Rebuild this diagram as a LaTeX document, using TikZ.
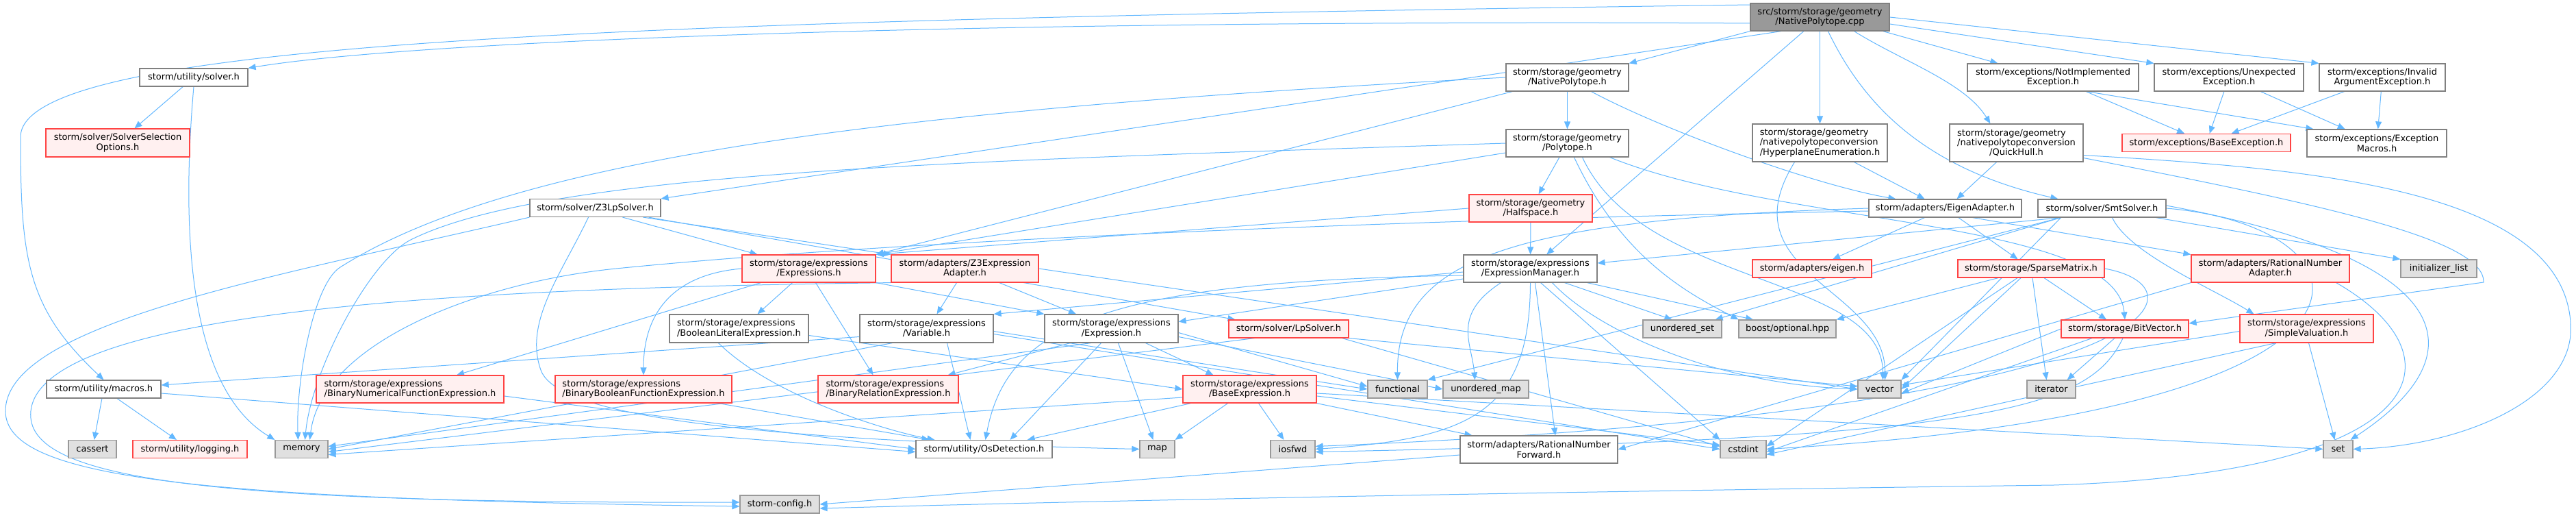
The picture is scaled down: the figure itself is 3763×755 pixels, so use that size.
\documentclass[tikz,border=0pt]{standalone}
\usepackage{fontspec}
\setmainfont{DejaVu Sans}
\usetikzlibrary{arrows.meta, backgrounds}
\definecolor{edgeblue}{HTML}{63B8FF}
\definecolor{boxgray}{HTML}{808080}
\definecolor{sysfill}{HTML}{E0E0E0}
\definecolor{sysline}{HTML}{999999}
\definecolor{truncfill}{HTML}{FFF0F0}
\definecolor{truncline}{HTML}{FF4444}
\newcommand{\lftline}[2]{\rlap{#1}\phantom{#2}}

\begin{document}
\begin{tikzpicture}[x=1pt, y=-1pt,
  hdr/.style={rectangle, draw=boxgray, fill=white, line width=1.2pt, minimum height=26pt, inner sep=2pt, align=center, font=\fontsize{13}{14.3}\selectfont},
  trunc/.style={hdr, draw=truncline, fill=truncfill},
  sysh/.style={hdr, draw=sysline, fill=sysfill},
  srcf/.style={hdr, fill=sysline},
  dep/.style={-{Triangle[length=11pt,width=9pt]}, draw=edgeblue, line width=1pt}
]
  \useasboundingbox (0,0) rectangle (3763,755);

  % rows top to bottom
  \node[srcf, minimum width=203pt, minimum height=40pt] (root) at (2658.5,25) {src/storm/storage/geometry\\/NativePolytope.cpp};

  \node[hdr, minimum width=158pt] (usolver) at (283,113) {storm/utility/solver.h};
  \node[hdr, minimum width=179pt, minimum height=40pt] (nativeh) at (2289.5,113) {storm/storage/geometry\\/NativePolytope.h};
  \node[hdr, minimum width=250pt, minimum height=40pt] (notimpl) at (2999,113) {storm/exceptions/NotImplemented\\Exception.h};
  \node[hdr, minimum width=218pt, minimum height=40pt] (unexp) at (3256,113) {storm/exceptions/Unexpected\\Exception.h};
  \node[hdr, minimum width=184pt, minimum height=40pt] (invarg) at (3480,113) {storm/exceptions/Invalid\\ArgumentException.h};

  \node[trunc, minimum width=210pt, minimum height=41pt] (selopt) at (172,208.5) {storm/solver/SolverSelection\\Options.h};
  \node[hdr, minimum width=179pt, minimum height=40pt] (polytope) at (2289.5,209) {storm/storage/geometry\\/Polytope.h};
  \node[hdr, minimum width=197pt, minimum height=55pt, align=left] (hyperplane) at (2658.5,208.5) {storm/storage/geometry\\/nativepolytopeconversion\\/HyperplaneEnumeration.h};
  \node[hdr, minimum width=195pt, minimum height=55pt] (quickhull) at (2945.5,208.5) {\lftline{storm/storage/geometry}{/nativepolytopeconversion}\\/nativepolytopeconversion\\/QuickHull.h};
  \node[trunc, minimum width=246pt] (baseexc) at (3223,208.5) {storm/exceptions/BaseException.h};
  \node[hdr, minimum width=204pt, minimum height=40pt] (excmacros) at (3472,209) {storm/exceptions/Exception\\Macros.h};

  \node[hdr, minimum width=191pt] (z3lp) at (869.5,303.5) {storm/solver/Z3LpSolver.h};
  \node[trunc, minimum width=180pt, minimum height=40pt] (halfspace) at (2236,304) {storm/storage/geometry\\/Halfspace.h};
  \node[hdr, minimum width=223pt] (eigenad) at (2841.5,304) {storm/adapters/EigenAdapter.h};
  \node[hdr, minimum width=187pt] (smtsolver) at (3070.5,304) {storm/solver/SmtSolver.h};

  \node[trunc, minimum width=195pt, minimum height=40pt] (exprs) at (1181.5,392) {storm/storage/expressions\\/Expressions.h};
  \node[trunc, minimum width=215pt, minimum height=40pt] (z3adapt) at (1409.5,392) {storm/adapters/Z3Expression\\Adapter.h};
  \node[hdr, minimum width=195pt, minimum height=40pt] (exprmgr) at (2235.5,392) {storm/storage/expressions\\/ExpressionManager.h};
  \node[trunc, minimum width=174pt] (eigen) at (2647,392) {storm/adapters/eigen.h};
  \node[trunc, minimum width=214pt] (sparse) at (2967,392) {storm/storage/SparseMatrix.h};
  \node[trunc, minimum width=231pt, minimum height=40pt] (ratadapt) at (3316.5,392) {storm/adapters/RationalNumber\\Adapter.h};
  \node[sysh, minimum width=111pt] (initlist) at (3562.5,392) {initializer\_list};

  \node[hdr, minimum width=203pt, minimum height=41pt, align=left] (boollit) at (1079.5,479.5) {storm/storage/expressions\\/BooleanLiteralExpression.h};
  \node[hdr, minimum width=195pt, minimum height=41pt] (variable) at (1353.5,479.5) {storm/storage/expressions\\/Variable.h};
  \node[hdr, minimum width=195pt, minimum height=41pt] (expression) at (1623.5,479.5) {storm/storage/expressions\\/Expression.h};
  \node[trunc, minimum width=175pt] (lpsolver) at (1882.5,480) {storm/solver/LpSolver.h};
  \node[sysh, minimum width=115pt] (uset) at (2457.5,480) {unordered\_set};
  \node[sysh, minimum width=142pt] (boostopt) at (2611,480) {boost/optional.hpp};
  \node[trunc, minimum width=186pt] (bitvector) at (3104,480) {storm/storage/BitVector.h};
  \node[trunc, minimum width=195pt, minimum height=41pt] (simpleval) at (3369.5,479.5) {storm/storage/expressions\\/SimpleValuation.h};

  \node[hdr, minimum width=167pt] (macros) at (151.5,568) {storm/utility/macros.h};
  \node[trunc, minimum width=274pt, minimum height=40pt, align=left] (binnum) at (599,568) {storm/storage/expressions\\/BinaryNumericalFunctionExpression.h};
  \node[trunc, minimum width=258pt, minimum height=40pt, align=left] (binbool) at (940,568) {storm/storage/expressions\\/BinaryBooleanFunctionExpression.h};
  \node[trunc, minimum width=205pt, minimum height=40pt, align=left] (binrel) at (1297.5,568) {storm/storage/expressions\\/BinaryRelationExpression.h};
  \node[trunc, minimum width=195pt, minimum height=40pt] (baseexpr) at (1825.5,568) {storm/storage/expressions\\/BaseExpression.h};
  \node[sysh, minimum width=87pt] (functional) at (2041.5,568) {functional};
  \node[sysh, minimum width=125pt] (umap) at (2170.5,568) {unordered\_map};
  \node[sysh, minimum width=63pt] (vector) at (2745.5,568) {vector};
  \node[sysh, minimum width=71pt] (iterator) at (2996.5,568) {iterator};

  \node[sysh, minimum width=70pt] (cassert) at (135,655.5) {cassert};
  \node[trunc, minimum width=167pt] (logging) at (277.5,655.5) {storm/utility/logging.h};
  \node[sysh, minimum width=77pt] (memory) at (440.5,655.5) {memory};
  \node[hdr, minimum width=199pt] (osdet) at (1437.5,655.5) {storm/utility/OsDetection.h};
  \node[sysh, minimum width=51pt] (map) at (1690.5,655.5) {map};
  \node[sysh, minimum width=65pt] (iosfwd) at (1888.5,655.5) {iosfwd};
  \node[hdr, minimum width=230pt, minimum height=40pt] (ratfwd) at (2248,656) {storm/adapters/RationalNumber\\Forward.h};
  \node[sysh, minimum width=67pt] (cstdint) at (2546.5,655.5) {cstdint};
  \node[sysh, minimum width=43pt] (set) at (3415.5,655.5) {set};

  \node[sysh, minimum width=116pt] (config) at (1139,736) {storm-config.h};

  \coordinate (lbendA) at (30,200);
  \coordinate (wNat) at (497,390);
  \coordinate (wPol) at (600,350);
  \coordinate (wEig) at (900,392);
  \coordinate (wZm) at (790,540);
  \coordinate (wZc) at (8,600);
  \coordinate (wAc) at (45,600);
  \coordinate (wQs) at (3755,470);
  \coordinate (wQb) at (3628,412);
  \coordinate (wRc) at (3000,708);

  \begin{scope}[on background layer]
  \fill[white] (0,0) rectangle (3763,755);

  \draw[dep] (root.185) .. controls (1400,28) and (600,60) .. (usolver.north east);
  \draw[dep] (root.170) .. controls (900,30) and (30,60) .. (lbendA) .. controls (30,380) and (40,450) .. (macros.north);
  \draw[dep] (root.200) -- (z3lp.north east);
  \draw[dep] (root.south west) -- (nativeh.north east);
  \draw[dep] (root) -- (exprmgr);
  \draw[dep] (root) -- (hyperplane);
  \draw[dep] ([xshift=50pt]root.south) .. controls (2780,90) and (2870,120) .. ([xshift=60pt]quickhull.north west);
  \draw[dep] ([xshift=12pt]root.south) .. controls (2730,170) and (2830,250) .. ([xshift=30pt]smtsolver.north west);
  \draw[dep] ([xshift=-10pt]root.south east) -- ([xshift=45pt]notimpl.north west);
  \draw[dep] ([yshift=-10pt]root.east) -- (unexp.north west);
  \draw[dep] (root.east) -- (invarg.north west);

  \draw[dep] (usolver) -- (selopt);
  \draw[dep] (usolver.south) .. controls (268,300) and (265,560) .. (memory.north west);

  \draw[dep] (macros) -- (cassert);
  \draw[dep] (macros) -- (logging);
  \draw[dep] ([yshift=-6pt]macros.east) -- ([yshift=-4pt]osdet.west);

  \draw[dep] (nativeh.west) .. controls (1300,160) and (750,230) .. (wNat) .. controls (457,415) and (432,560) .. ([xshift=-5pt]memory.north);
  \draw[dep] (nativeh) -- (exprs.north east);
  \draw[dep] (nativeh) -- (polytope);
  \draw[dep] ([xshift=35pt]nativeh.south) .. controls (2430,190) and (2650,270) .. ([xshift=40pt]eigenad.north west);

  \draw[dep] (polytope.west) .. controls (1400,235) and (800,250) .. (wPol) .. controls (540,380) and (455,540) .. ([xshift=5pt]memory.north);
  \draw[dep] ([yshift=-14pt]polytope.west) -- (exprs.north east);
  \draw[dep] (polytope) -- (halfspace);
  \draw[dep] ([xshift=10pt]polytope.south) .. controls (2370,380) and (2470,430) .. (boostopt.north west);
  \draw[dep] ([xshift=22pt]polytope.south) .. controls (2400,420) and (2750,400) .. ([xshift=5pt]vector.north);
  \draw[dep] ([xshift=-28pt]polytope.south east) .. controls (2600,330) and (3090,320) .. (bitvector.north);

  \draw[dep] (halfspace) -- (exprmgr);
  \draw[dep] (halfspace.west) -- (exprs.north east);

  \draw[dep] ([xshift=-37pt]hyperplane.south) .. controls (2520,400) and (2755,420) .. ([xshift=8pt]vector.north);
  \draw[dep] ([xshift=50pt]hyperplane.south) -- ([xshift=-30pt]eigenad.north);

  \draw[dep] ([xshift=-29pt]quickhull.south) -- ([xshift=17pt]eigenad.north);
  \draw[dep] ([yshift=-18pt]quickhull.east) .. controls (3350,245) and (3740,270) .. (wQs) .. controls (3765,580) and (3600,650) .. (set.east);
  \draw[dep] ([yshift=-22pt]quickhull.east) .. controls (3400,300) and (3630,350) .. (wQb) -- ([yshift=8pt]bitvector.east);

  \draw[dep] (notimpl) -- (baseexc);
  \draw[dep] ([xshift=50pt]notimpl.south) -- ([xshift=10pt]excmacros.north west);
  \draw[dep] (unexp) -- (baseexc);
  \draw[dep] (unexp) -- (excmacros);
  \draw[dep] (invarg) -- (baseexc);
  \draw[dep] (invarg) -- (excmacros);

  \draw[dep] (eigenad) -- (eigen);
  \draw[dep] (eigenad) -- (sparse);
  \draw[dep] ([xshift=40pt]eigenad.south) -- (ratadapt.north west);
  \draw[dep] (eigenad.west) .. controls (2200,320) and (2040,380) .. (functional.north);
  \draw[dep] ([yshift=-4pt]eigenad.west) .. controls (2000,322) and (1300,352) .. (wEig) .. controls (700,412) and (470,500) .. ([xshift=12pt]memory.north);

  \draw[dep] ([xshift=-60pt]smtsolver.south) -- ([yshift=8pt]exprmgr.east);
  \draw[dep] ([xshift=-60pt]smtsolver.south) -- ([xshift=-10pt]uset.north east);
  \draw[dep] ([xshift=-60pt]smtsolver.south) -- (functional.north east);
  \draw[dep] ([xshift=-60pt]smtsolver.south) -- (vector.north east);
  \draw[dep] (smtsolver.east) .. controls (3480,330) and (3560,600) .. (cstdint.east);
  \draw[dep] ([yshift=4pt]smtsolver.east) .. controls (3600,380) and (3620,520) .. ([xshift=-4pt]set.north east);
  \draw[dep] ([xshift=-15pt]smtsolver.south east) -- (initlist.north west);
  \draw[dep] ([xshift=15pt]smtsolver.south) .. controls (3110,370) and (3230,420) .. ([xshift=-77pt]simpleval.north);

  \draw[dep] ([yshift=-5pt]exprmgr.west) -- (variable.north east);
  \draw[dep] ([yshift=-15pt]exprmgr.west) -- ([yshift=10pt]expression.east);
  \draw[dep] ([yshift=-10pt]exprmgr.west) .. controls (1600,410) and (1470,480) .. ([xshift=2pt]osdet.north);
  \draw[dep] ([xshift=-43pt]exprmgr.south) .. controls (2120,460) and (2150,500) .. ([xshift=-16pt]umap.north);
  \draw[dep] (exprmgr.south) .. controls (2235,600) and (2150,640) .. (iosfwd.east);
  \draw[dep] ([xshift=7pt]exprmgr.south) -- ([xshift=24pt]ratfwd.north);
  \draw[dep] ([xshift=15pt]exprmgr.south) -- (cstdint.north west);
  \draw[dep] ([xshift=32pt]exprmgr.south) .. controls (2330,480) and (2500,560) .. (vector.west);
  \draw[dep] ([xshift=50pt]exprmgr.south) -- ([xshift=-15pt]uset.north);
  \draw[dep] ([xshift=83pt]exprmgr.south) -- ([xshift=-50pt]boostopt.north);

  \draw[dep] (z3lp) -- (lpsolver);
  \draw[dep] ([xshift=40pt]z3lp.south) -- ([xshift=-75pt]exprs.north);
  \draw[dep] ([xshift=70pt]z3lp.south) -- (z3adapt.north west);
  \draw[dep] ([xshift=-10pt]z3lp.south) .. controls (820,400) and (765,470) .. (wZm) .. controls (810,596) and (1000,640) .. (map.west);
  \draw[dep] (z3lp.south west) .. controls (420,400) and (8,470) .. (wZc) .. controls (8,700) and (300,728) .. ([yshift=-3pt]config.west);

  \draw[dep] ([xshift=-12pt]z3adapt.south) -- ([xshift=15pt]variable.north);
  \draw[dep] (z3adapt.south west) .. controls (700,420) and (60,450) .. (wAc) .. controls (35,700) and (300,735) .. ([yshift=3pt]config.west);
  \draw[dep] (z3adapt) -- (expression);
  \draw[dep] (z3adapt.east) -- (vector.west);

  \draw[dep] ([xshift=-24pt]exprs.south) -- ([xshift=27pt]boollit.north);
  \draw[dep] ([xshift=10pt]exprs.south) -- ([xshift=-22pt]binrel.north);
  \draw[dep] ([xshift=-70pt]exprs.south) -- ([xshift=68pt]binnum.north);
  \draw[dep] (exprs.west) .. controls (990,400) and (940,450) .. (binbool.north);
  \draw[dep] (exprs.south east) -- (expression.north west);

  \draw[dep] ([xshift=-30pt]boollit.south) .. controls (1130,580) and (1300,630) .. ([xshift=28pt]osdet.north west);
  \draw[dep] ([yshift=-10pt]boollit.east) -- (baseexpr.west);

  \draw[dep] ([yshift=-12pt]variable.west) -- ([yshift=6pt]macros.east);
  \draw[dep] ([xshift=-50pt]variable.south) -- (memory.east);
  \draw[dep] ([xshift=30pt]variable.south) -- ([xshift=-20pt]osdet.north);
  \draw[dep] ([yshift=-8pt]variable.east) -- (cstdint.west);
  \draw[dep] ([yshift=-4pt]variable.east) -- (functional.west);

  \draw[dep] ([xshift=-60pt]expression.south) -- ([xshift=-16pt]binrel.north east);
  \draw[dep] ([xshift=-30pt]expression.south) -- ([yshift=4pt]memory.east);
  \draw[dep] ([xshift=-15pt]expression.south) -- ([xshift=38pt]osdet.north);
  \draw[dep] ([xshift=10pt]expression.south) -- ([xshift=-6pt]map.north);
  \draw[dep] ([xshift=50pt]expression.south) -- ([xshift=-53pt]baseexpr.north);
  \draw[dep] ([yshift=-6pt]expression.east) -- ([yshift=4pt]functional.west);
  \draw[dep] ([yshift=-12pt]expression.east) -- (umap.west);

  \draw[dep] ([xshift=-50pt]lpsolver.south) -- ([yshift=-4pt]memory.east);
  \draw[dep] (lpsolver.south east) -- ([yshift=4pt]vector.west);
  \draw[dep] ([xshift=-10pt]lpsolver.south east) -- ([yshift=4pt]cstdint.west);

  \draw[dep] ([yshift=-10pt]binnum.east) -- (osdet.west);
  \draw[dep] ([xshift=-20pt]binbool.south east) -- ([xshift=-80pt]osdet.north);

  \draw[dep] ([xshift=-86pt]baseexpr.south) -- ([xshift=-37pt]osdet.north east);
  \draw[dep] ([yshift=-12pt]baseexpr.west) -- ([yshift=-8pt]memory.east);
  \draw[dep] ([xshift=-32pt]baseexpr.south) -- (map.north east);
  \draw[dep] ([xshift=13pt]baseexpr.south) -- ([xshift=-13pt]iosfwd.north);
  \draw[dep] ([yshift=-10pt]baseexpr.east) -- ([yshift=6pt]cstdint.west);
  \draw[dep] (baseexpr.south east) -- ([xshift=18pt]ratfwd.north west);
  \draw[dep] ([yshift=-6pt]baseexpr.east) -- (set.west);

  \draw[dep] ([yshift=-8pt]ratfwd.west) -- (config.east);
  \draw[dep] (ratadapt.south west) -- (ratfwd.east);
  \draw[dep] ([xshift=-20pt]ratadapt.south east) .. controls (3600,520) and (3560,690) .. (wRc) .. controls (2400,716) and (1700,728) .. ([yshift=-6pt]config.east);

  \draw[dep] ([xshift=19pt]sparse.south) -- ([xshift=-27pt]bitvector.north);
  \draw[dep] ([xshift=2pt]sparse.south) -- ([xshift=-7pt]iterator.north);
  \draw[dep] ([xshift=-48pt]sparse.south) -- (boostopt.north east);
  \draw[dep] ([xshift=-15pt]sparse.south) -- (vector.east);
  \draw[dep] ([xshift=-20pt]sparse.south) -- ([yshift=4pt]cstdint.east);
  \draw[dep] (sparse.east) .. controls (3230,420) and (3180,600) .. ([yshift=4pt]iosfwd.east);

  \draw[dep] ([xshift=-15pt]bitvector.south) -- ([xshift=-13pt]iterator.north east);
  \draw[dep] (bitvector.west) -- ([yshift=-6pt]vector.east);
  \draw[dep] ([xshift=-48pt]bitvector.south) -- ([yshift=-4pt]cstdint.east);
  \draw[dep] ([xshift=-3pt]bitvector.south) .. controls (3050,600) and (2900,640) .. ([yshift=-4pt]iosfwd.east);

  \draw[dep] ([xshift=3pt]simpleval.south) -- ([xshift=-5pt]set.north);
  \draw[dep] ([yshift=-4pt]simpleval.west) -- ([yshift=6pt]vector.east);
  \draw[dep] ([xshift=-45pt]simpleval.south) -- ([yshift=-8pt]cstdint.east);
  \end{scope}
\end{tikzpicture}
\end{document}
